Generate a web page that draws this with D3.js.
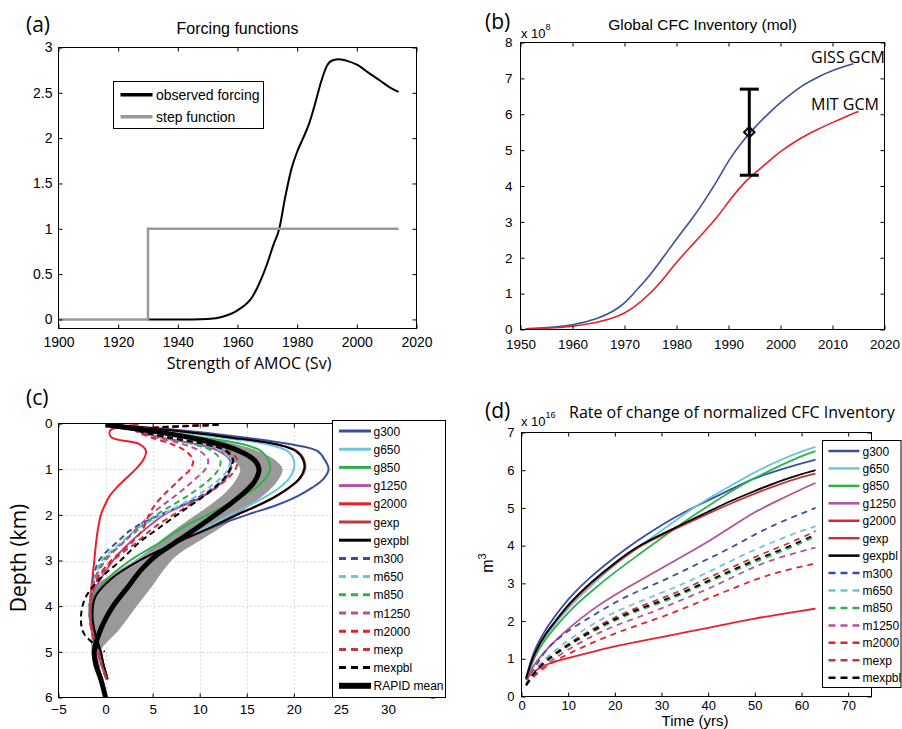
<!DOCTYPE html>
<html><head><meta charset="utf-8">
<script src="https://cdn.jsdelivr.net/npm/d3@7"></script>
<style>body{margin:0;background:#fff}svg{display:block}</style>
</head><body><svg id="fig" width="902" height="729"></svg>
<script>
// ---------- Panel (a) data ----------
const yearsA = [1930,1945,1950,1955,1960,1965,1968,1970,1972,1974,1976,1978,1980,1982,1984,1986,1988,1990,1992,1994,1997,2000,2004,2008,2011,2014];
const observedForcing = [0,0,0.005,0.03,0.1,0.25,0.45,0.62,0.82,1.0,1.35,1.65,1.85,2.0,2.16,2.38,2.62,2.8,2.86,2.87,2.85,2.81,2.72,2.63,2.56,2.51];
const stepYears = [1900,1930,1930,2014];
const stepValues = [0,0,1,1];
const ticksAx = [1900,1920,1940,1960,1980,2000,2020];
const ticksAy = [0,0.5,1,1.5,2,2.5,3];

// ---------- Panel (b) data ----------
const yearsB = [1951,1955,1960,1965,1968,1970,1972,1975,1978,1980,1983,1985,1988,1990,1993,1995,1998,2000,2004,2007,2010,2014,2015];
const gissInv = [0.02,0.05,0.11,0.3,0.52,0.72,1.05,1.52,2.12,2.53,3.08,3.5,4.18,4.72,5.3,5.63,6.07,6.33,6.8,7.02,7.23,7.41,null];
const mitInv  = [0.01,0.03,0.08,0.2,0.33,0.45,0.64,1.0,1.5,1.88,2.35,2.67,3.15,3.57,4.1,4.35,4.72,4.97,5.35,5.57,5.77,6.03,6.08];
const obsYear = 1994, obsMean = 5.5, obsLow = 4.3, obsHigh = 6.7;
const ticksBx = [1950,1960,1970,1980,1990,2000,2010,2020];
const ticksBy = [0,1,2,3,4,5,6,7,8];

// ---------- Panel (c) data ----------
const depthC = [0.03,0.15,0.3,0.45,0.6,0.8,1.0,1.2,1.4,1.6,1.8,2.0,2.3,2.6,3.0,3.4,3.8,4.2,4.6,5.0,5.3,5.6];
const cG300  = [0.5,8,14.5,19.5,22.5,23.3,23.7,23.2,22.0,20.3,18.0,15.0,11.0,7.6,3.5,0.6,-1.2,-1.5,-1.2,-0.6,-0.2,0.2];
const cG650  = [0.5,6,12,17,19.3,20,20,19.5,18.5,17,15.2,13.2,10.5,7.4,3.4,0.5,-1.2,-1.5,-1.2,-0.6,-0.2,0.2];
const cG850  = [0.5,5,10,14.5,16.5,17.3,17.5,17,16,14.5,12.7,10.8,8.0,5.8,2.6,0.2,-1.3,-1.5,-1.2,-0.6,-0.2,0.2];
const cG1250 = [1,3.1,5.8,9.5,12,13.2,13.3,12.8,11.7,10.3,8.2,6.2,4.3,2.6,0.8,-0.5,-1.5,-1.6,-1.2,-0.6,-0.2,0.2];
const cG2000 = [3.5,0.5,0.6,3.6,4.3,4.0,3.2,2.2,1.2,0.4,-0.1,-0.5,-0.8,-1.0,-1.2,-1.4,-1.6,-1.6,-1.2,-0.6,-0.2,0.2];
const cGexp  = [0.5,7,13,18,20.3,21.1,21.2,20.7,19.6,18.1,16.2,14.0,11.0,7.7,3.6,0.6,-1.1,-1.4,-1.1,-0.5,-0.2,0.2];
const cGexpbl= [0.5,7,13,18,20.2,21,21.1,20.6,19.5,18,16.1,13.9,10.9,7.6,3.6,0.6,-1.1,-1.4,-1.1,-0.5,-0.2,0.2];
const cM300  = [12,3.5,6.5,10.5,12.8,13.6,13.3,12.6,11.5,10.0,8.0,5.8,2.9,1.2,-0.7,-1.3,-1.6,-1.7,-1.4,-0.8,-0.4,0.1];
const cM650  = [12,3.5,6.3,10.0,12.3,13.2,13.0,12.2,11.0,9.6,7.8,6.0,3.4,1.7,-0.4,-1.2,-1.6,-1.7,-1.4,-0.8,-0.4,0.1];
const cM850  = [12,3.5,6.0,9.3,11.3,12.2,12.0,11.2,10.0,8.6,7.0,5.4,3.6,1.9,-0.2,-1.1,-1.6,-1.7,-1.4,-0.8,-0.4,0.1];
const cM1250 = [12,3.3,5.3,8.2,10.0,10.9,10.6,9.6,8.5,7.3,6.0,4.8,3.3,1.9,0.0,-1.1,-1.6,-1.7,-1.4,-0.8,-0.4,0.1];
const cM2000 = [12,3.2,4.8,7.0,8.5,9.3,9.0,8.0,7.0,6.0,5.2,4.6,4.0,2.8,0.6,-0.9,-1.5,-1.6,-1.4,-0.8,-0.4,0.1];
const cMexp  = [12,3.5,6.5,10.5,13.0,14.0,13.8,13.0,11.8,10.3,8.8,7.2,5.0,3.3,0.8,-0.8,-1.5,-1.6,-1.4,-0.8,-0.4,0.1];
const cMexpbl= [12,3.5,6.5,10.5,12.8,13.5,13.2,12.6,11.6,10.4,9.0,7.6,5.6,3.6,1.6,-0.6,-2.1,-2.6,-2.3,-0.1,null,null];
const depthRapid = [0.03,0.2,0.35,0.55,0.8,1.0,1.25,1.5,1.8,2.2,2.5,2.9,3.2,3.6,4.0,4.5,5.0,5.3,5.6,6.0];
const rapidMean = [0,6,10,13.6,15.8,16.3,15.9,14.8,13,10.3,8.2,5.3,3.8,2.3,0.8,-0.5,-1.2,-1.0,-0.5,0];
const rapidLow  = [0,5,8.5,11.5,13.5,14.3,13.8,12.8,11,8.2,6.2,3.8,1.5,-1.2,-1.4,-1.5,-1.5,-1.3,-0.7,0];
const rapidHigh = [0,7,11.5,15.5,18,18.8,18.3,17.2,15.3,12.8,10.5,7.5,6.2,4.8,3.3,1.5,-0.6,-0.6,-0.3,0.1];
const ticksCx = [-5,0,5,10,15,20,25,30];
const ticksCy = [0,1,2,3,4,5,6];

// ---------- Panel (d) data ----------
const timeD = [1,2,3,5,7,10,15,20,25,30,35,40,45,50,55,60,63];
const dG300  = [0.5,0.95,1.3,1.75,2.1,2.6,3.2,3.7,4.15,4.55,4.9,5.2,5.5,5.8,6.0,6.18,6.28];
const dG650  = [0.45,0.85,1.15,1.55,1.9,2.35,2.95,3.5,3.95,4.4,4.85,5.25,5.6,5.95,6.25,6.5,6.62];
const dG850  = [0.45,0.8,1.1,1.5,1.8,2.25,2.8,3.3,3.75,4.2,4.65,5.05,5.45,5.8,6.1,6.38,6.51];
const dG1250 = [0.45,0.7,0.9,1.2,1.45,1.8,2.3,2.7,3.05,3.4,3.75,4.1,4.5,4.9,5.2,5.5,5.66];
const dG2000 = [0.45,0.6,0.7,0.83,0.92,1.02,1.18,1.33,1.46,1.57,1.7,1.82,1.95,2.07,2.17,2.27,2.33];
const dGexp  = [0.47,0.88,1.18,1.63,1.93,2.42,3.02,3.52,3.97,4.27,4.56,4.85,5.13,5.38,5.62,5.82,5.91];
const dGexpbl= [0.48,0.9,1.2,1.65,1.95,2.45,3.05,3.55,4.0,4.3,4.6,4.9,5.2,5.45,5.7,5.9,6.0];
const dM300  = [0.33,0.6,0.8,1.2,1.45,1.75,2.12,2.5,2.8,3.05,3.35,3.65,3.95,4.3,4.6,4.85,5.0];
const dM650  = [0.3,0.55,0.72,1.0,1.2,1.5,1.9,2.25,2.5,2.75,3.0,3.3,3.6,3.9,4.15,4.4,4.51];
const dM850  = [0.3,0.49,0.65,0.91,1.08,1.34,1.71,2.02,2.28,2.49,2.74,3.03,3.3,3.57,3.81,4.07,4.25];
const dM1250 = [0.3,0.47,0.6,0.85,1.0,1.25,1.6,1.88,2.1,2.33,2.6,2.85,3.15,3.45,3.68,3.85,3.95];
const dM2000 = [0.3,0.45,0.57,0.78,0.93,1.13,1.42,1.67,1.9,2.1,2.35,2.6,2.85,3.1,3.3,3.45,3.52];
const dMexp  = [0.3,0.52,0.68,0.95,1.13,1.4,1.78,2.1,2.37,2.6,2.85,3.15,3.42,3.7,3.95,4.2,4.39];
const dMexpbl= [0.3,0.5,0.66,0.93,1.1,1.37,1.74,2.05,2.32,2.53,2.78,3.07,3.34,3.62,3.86,4.12,4.3];
const ticksDx = [0,10,20,30,40,50,60,70];
const ticksDy = [0,1,2,3,4,5,6,7];

const seriesNames = ["g300","g650","g850","g1250","g2000","gexp","gexpbl","m300","m650","m850","m1250","m2000","mexp","mexpbl"];
const seriesColors = ["#3b4ea0","#6dc5db","#2eb24a","#b2519e","#e8202a","#c2363f","#000000","#3b4ea0","#6dc5db","#2eb24a","#b2519e","#e8202a","#c2363f","#000000"];
const seriesDashed = [false,false,false,false,false,false,false,true,true,true,true,true,true,true];
const cSeries = [cG300,cG650,cG850,cG1250,cG2000,cGexp,cGexpbl,cM300,cM650,cM850,cM1250,cM2000,cMexp,cMexpbl];
const dSeries = [dG300,dG650,dG850,dG1250,dG2000,dGexp,dGexpbl,dM300,dM650,dM850,dM1250,dM2000,dMexp,dMexpbl];

// ---------- drawing ----------
const FONT = '"Liberation Sans", Arial, Helvetica, sans-serif';
const FONT2 = '"Open Sans", "Noto Sans", sans-serif';
const svg = d3.select("#fig");
const fmtMinus = d => d < 0 ? "\u2212" + (-d) : String(d);

function frame(x, y, o) {
  const [xl, xr] = x.range();
  const yb = Math.max(...y.range()), yt = Math.min(...y.range());
  const st = s => { s.select(".domain").remove(); s.attr("font-family", FONT).attr("font-size", o.fs || 14);
    s.selectAll("line").attr("stroke", "#000"); s.selectAll("text").attr("fill", "#000"); };
  svg.append("g").attr("transform", `translate(0,${yb})`)
    .call(d3.axisBottom(x).tickValues(o.xt).tickSizeInner(-4).tickSizeOuter(0).tickPadding(o.xpad).tickFormat(o.xf || fmtMinus)).call(st);
  svg.append("g").attr("transform", `translate(0,${yt})`)
    .call(d3.axisTop(x).tickValues(o.xt).tickSizeInner(-4).tickSizeOuter(0).tickFormat("")).call(st);
  svg.append("g").attr("transform", `translate(${xl},0)`)
    .call(d3.axisLeft(y).tickValues(o.yt).tickSizeInner(-4).tickSizeOuter(0).tickPadding(o.ypad).tickFormat(o.yf || fmtMinus)).call(st);
  svg.append("g").attr("transform", `translate(${xr},0)`)
    .call(d3.axisRight(y).tickValues(o.yt).tickSizeInner(-4).tickSizeOuter(0).tickFormat("")).call(st);
  svg.append("rect").attr("x", xl).attr("y", yt).attr("width", xr - xl).attr("height", yb - yt)
    .attr("fill", "none").attr("stroke", "#000").attr("stroke-width", 1);
}
function txt(x, y, s, o = {}) {
  return svg.append("text").attr("x", x).attr("y", y).text(s)
    .attr("font-family", o.ff || FONT).attr("font-size", o.fs || 14)
    .attr("text-anchor", o.anchor || "start").attr("fill", "#000");
}

// ===== Panel (a) =====
{
  const x = d3.scaleLinear([1900, 2020], [58.5, 416.5]);
  const y = d3.scaleLinear([-0.1, 3], [328.5, 47.5]);
  svg.append("path").attr("d", d3.line().x(d => x(d[0])).y(d => y(d[1])).curve(d3.curveMonotoneX)(yearsA.map((t, i) => [t, observedForcing[i]])))
    .attr("fill", "none").attr("stroke", "#000").attr("stroke-width", 2);
  svg.append("path").attr("d", d3.line().x(d => x(d[0])).y(d => y(d[1]))(stepYears.map((t, i) => [t, stepValues[i]])))
    .attr("fill", "none").attr("stroke", "#999").attr("stroke-width", 2.5);
  frame(x, y, { xt: ticksAx, yt: ticksAy, xpad: 9, ypad: 6 });
  svg.append("rect").attr("x", 113.5).attr("y", 81.5).attr("width", 150).attr("height", 47).attr("fill", "#fff").attr("stroke", "#000");
  [["observed forcing", "#000", 94.7], ["step function", "#999", 116.7]].forEach(([l, c, yy]) => {
    svg.append("line").attr("x1", 120.5).attr("x2", 152.5).attr("y1", yy).attr("y2", yy).attr("stroke", c).attr("stroke-width", 3.5);
    txt(156, yy + 5, l, { fs: 14 });
  });
  txt(237.5, 33.5, "Forcing functions", { fs: 16, anchor: "middle" });
  txt(249, 369, "Strength of AMOC (Sv)", { ff: FONT2, fs: 16, anchor: "middle" });
  txt(26, 32, "(a)", { ff: FONT2, fs: 21 });
}

// ===== Panel (b) =====
{
  const x = d3.scaleLinear([1950, 2020], [520.5, 884.5]);
  const y = d3.scaleLinear([0, 8], [329.5, 42.5]);
  const line = d3.line().defined(d => d[1] != null).x(d => x(d[0])).y(d => y(d[1])).curve(d3.curveBasis);
  svg.append("path").attr("d", line(yearsB.map((t, i) => [t, gissInv[i]]))).attr("fill", "none").attr("stroke", "#3b4ea0").attr("stroke-width", 1.6);
  svg.append("path").attr("d", line(yearsB.map((t, i) => [t, mitInv[i]]))).attr("fill", "none").attr("stroke", "#e8202a").attr("stroke-width", 1.6);
  const ex = x(obsYear);
  svg.append("line").attr("x1", ex).attr("x2", ex).attr("y1", y(obsLow)).attr("y2", y(obsHigh)).attr("stroke", "#000").attr("stroke-width", 3);
  [obsLow, obsHigh].forEach(v => svg.append("line").attr("x1", ex - 9.5).attr("x2", ex + 9.5).attr("y1", y(v)).attr("y2", y(v)).attr("stroke", "#000").attr("stroke-width", 3));
  svg.append("path").attr("d", d3.symbol(d3.symbolDiamond2, 70)()).attr("transform", `translate(${ex},${y(obsMean)})`)
    .attr("fill", "none").attr("stroke", "#000").attr("stroke-width", 2);
  frame(x, y, { xt: ticksBx, yt: ticksBy, xpad: 9.5, ypad: 8, fs: 13.5 });
  const t = txt(521, 37.5, "x 10", { fs: 13 });
  t.append("tspan").attr("dy", -8).attr("font-size", 9).text("8");
  txt(702.5, 30, "Global CFC Inventory (mol)", { fs: 15.5, anchor: "middle" });
  txt(811, 63, "GISS GCM", { ff: FONT2, fs: 16 });
  txt(811, 110, "MIT GCM", { ff: FONT2, fs: 16 });
  txt(485, 29, "(b)", { ff: FONT2, fs: 21 });
}

// ===== Panel (c) =====
{
  const x = d3.scaleLinear([-5, 35], [58.5, 435]);
  const y = d3.scaleLinear([0, 6], [423.5, 697.5]);
  const gg = svg.append("g").attr("stroke", "#b8b8b8").attr("stroke-dasharray", "1,3").attr("stroke-width", 1);
  ticksCx.filter(v => v > -5).forEach(v => gg.append("line").attr("x1", Math.round(x(v)) + 0.5).attr("x2", Math.round(x(v)) + 0.5).attr("y1", y(0)).attr("y2", y(6)));
  ticksCy.filter(v => v > 0 && v < 6).forEach(v => gg.append("line").attr("y1", Math.round(y(v)) + 0.5).attr("y2", Math.round(y(v)) + 0.5).attr("x1", x(-5)).attr("x2", x(35)));
  svg.append("clipPath").attr("id", "clipC").append("rect").attr("x", x(-5)).attr("y", y(0)).attr("width", x(35) - x(-5)).attr("height", y(6) - y(0));
  const pg = svg.append("g").attr("clip-path", "url(#clipC)");
  const area = d3.area().y(d => y(d[0])).x0(d => x(d[1])).x1(d => x(d[2])).curve(d3.curveCatmullRom);
  pg.append("path").attr("d", area(depthRapid.map((z, i) => [z, rapidLow[i], rapidHigh[i]]))).attr("fill", "#999").attr("stroke", "none");
  const line = d3.line().defined(d => d[1] != null).y(d => y(d[0])).x(d => x(d[1])).curve(d3.curveCatmullRom);
  cSeries.forEach((s, k) => {
    pg.append("path").attr("d", line(depthC.map((z, i) => [z, s[i]])))
      .attr("fill", "none").attr("stroke", seriesColors[k]).attr("stroke-width", 2)
      .attr("stroke-dasharray", seriesDashed[k] ? "6,4" : null);
  });
  pg.append("path").attr("d", line(depthRapid.map((z, i) => [z, rapidMean[i]])))
    .attr("fill", "none").attr("stroke", "#000").attr("stroke-width", 5);
  frame(x, y, { xt: ticksCx, yt: ticksCy, xpad: 7, ypad: 6, fs: 13.5 });
  svg.append("rect").attr("x", 332.5).attr("y", 420.5).attr("width", 113).attr("height", 277).attr("fill", "#fff").attr("stroke", "#000");
  const names = seriesNames.concat(["RAPID mean"]);
  names.forEach((n, i) => {
    const yy = 431 + i * 18.2;
    const rapid = i === 14;
    svg.append("line").attr("x1", 339).attr("x2", 371).attr("y1", yy).attr("y2", yy)
      .attr("stroke", rapid ? "#000" : seriesColors[i]).attr("stroke-width", rapid ? 6 : 3)
      .attr("stroke-dasharray", !rapid && seriesDashed[i] ? "7,5" : null);
    txt(373.5, yy + 4.5, n, { fs: 12 });
  });
  svg.append("text").attr("transform", "translate(26,558) rotate(-90)").attr("text-anchor", "middle")
    .attr("font-family", FONT2).attr("font-size", 21).text("Depth (km)");
  txt(26, 405, "(c)", { ff: FONT2, fs: 21 });
}

// ===== Panel (d) =====
{
  const x = d3.scaleLinear([0, 75], [521.5, 871.5]);
  const y = d3.scaleLinear([0, 7], [696.5, 432.5]);
  const line = d3.line().x(d => x(d[0])).y(d => y(d[1])).curve(d3.curveBasis);
  dSeries.forEach((s, k) => {
    svg.append("path").attr("d", line(timeD.map((t, i) => [t, s[i]])))
      .attr("fill", "none").attr("stroke", seriesColors[k]).attr("stroke-width", 1.8)
      .attr("stroke-dasharray", seriesDashed[k] ? "6,5" : null);
  });
  frame(x, y, { xt: ticksDx, yt: ticksDy, xpad: 4, ypad: 7, fs: 13 });
  svg.append("rect").attr("x", 822.5).attr("y", 440.5).attr("width", 78.5).attr("height", 247).attr("fill", "#fff").attr("stroke", "#000");
  seriesNames.forEach((n, i) => {
    const yy = 451 + i * 17.44;
    svg.append("line").attr("x1", 828.5).attr("x2", 859.5).attr("y1", yy).attr("y2", yy)
      .attr("stroke", seriesColors[i]).attr("stroke-width", 2.5)
      .attr("stroke-dasharray", seriesDashed[i] ? "7,5" : null);
    txt(862.5, yy + 4.5, n, { fs: 12 });
  });
  const t = txt(521, 426, "x 10", { fs: 13 });
  t.append("tspan").attr("dy", -8).attr("font-size", 9).text("16");
  txt(569, 418, "Rate of change of normalized CFC Inventory", { ff: FONT2, fs: 16 });
  const m = svg.append("text").attr("transform", "translate(493,563) rotate(-90)").attr("text-anchor", "middle")
    .attr("font-family", FONT).attr("font-size", 16).text("m");
  m.append("tspan").attr("dy", -7).attr("font-size", 11).text("3");
  txt(695, 725.8, "Time (yrs)", { fs: 15, anchor: "middle" });
  txt(485, 418, "(d)", { ff: FONT2, fs: 21 });
}
</script></body></html>
